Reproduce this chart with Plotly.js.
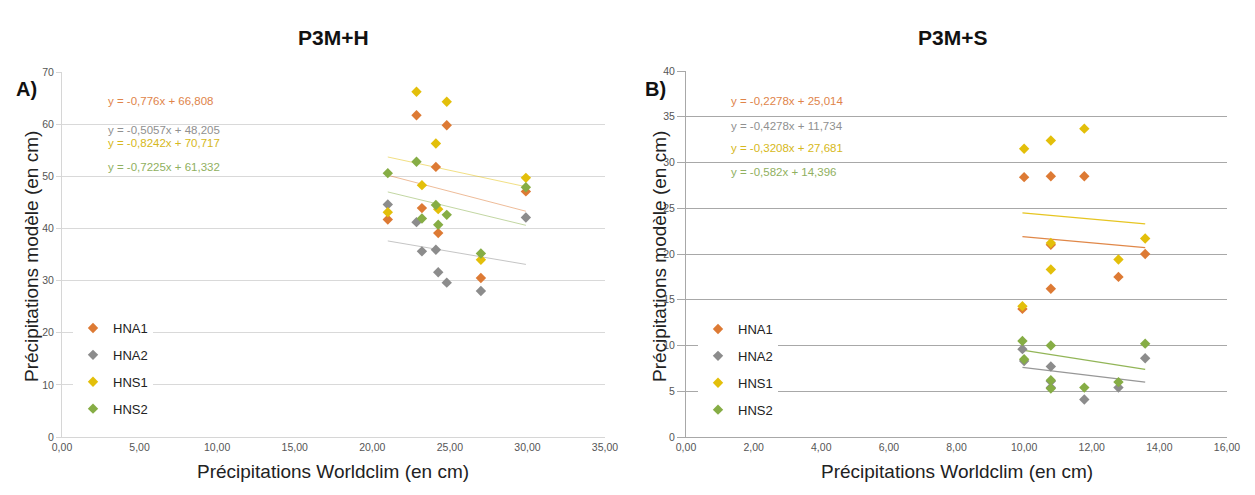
<!DOCTYPE html>
<html>
<head>
<meta charset="utf-8">
<script src="https://cdn.plot.ly/plotly-3.0.1.min.js"></script>
<style>html,body{margin:0;padding:0;background:#fff;}#chart{width:1255px;height:495px;}</style>
</head>
<body>
<div id="chart"></div>
<script>
// ---------- Panel A : P3M+H ----------
const seriesNames = ['HNA1', 'HNA2', 'HNS1', 'HNS2'];
const seriesColors = ['#dd7a34', '#8c8c8c', '#e3bf0a', '#86ad45'];

const xA = [21.0, 22.85, 23.2, 24.1, 24.25, 24.8, 27.0, 29.9];
const hna1A = [41.7, 61.7, 43.9, 51.8, 39.1, 59.8, 30.5, 47.1];
const hna2A = [44.6, 41.2, 35.6, 35.9, 31.6, 29.6, 28.0, 42.1];
const hns1A = [43.1, 66.2, 48.3, 56.3, 43.7, 64.3, 34.0, 49.7];
const hns2A = [50.6, 52.8, 41.9, 44.5, 40.7, 42.6, 35.2, 47.9];

// trend line end points
const trendXA = [21.0, 29.9];
const trendA = {
  HNA1: [50.2, 43.3],
  HNA2: [37.6, 33.1],
  HNS1: [53.7, 48.0],
  HNS2: [47.0, 40.6]
};
const eqA = ['y = -0,776x + 66,808', 'y = -0,5057x + 48,205', 'y = -0,8242x + 70,717', 'y = -0,7225x + 61,332'];

// ---------- Panel B : P3M+S ----------
const xB = [9.95, 10.0, 10.79, 10.79, 10.79, 11.78, 12.79, 13.58];
const hna1B = [14.0, 28.4, 28.5, 21.0, 16.2, 28.5, 17.5, 20.0];
const hna2B = [9.6, 8.3, 7.7, 6.1, 5.4, 4.1, 5.4, 8.6];
const hns1B = [14.3, 31.5, 32.4, 21.2, 18.3, 33.7, 19.4, 21.7];
const hns2B = [10.5, 8.5, 10.0, 6.2, 5.3, 5.4, 6.0, 10.2];

const trendXB = [9.95, 13.58];
const trendB = {
  HNA1: [21.9, 20.7],
  HNA2: [7.6, 6.0],
  HNS1: [24.5, 23.3],
  HNS2: [9.5, 7.4]
};
const eqB = ['y = -0,2278x + 25,014', 'y = -0,4278x + 11,734', 'y = -0,3208x + 27,681', 'y = -0,582x + 14,396'];

const ticksA_x = [0, 5, 10, 15, 20, 25, 30, 35];
const ticksB_x = [0, 2, 4, 6, 8, 10, 12, 14, 16];

// ---------- build ----------
const FONT = 'Liberation Sans, Arial, sans-serif';
const W = 1255, H = 495;
const px = v => v / W;
const py = v => 1 - v / H;

const dataA = [hna1A, hna2A, hns1A, hns2A];
const dataB = [hna1B, hna2B, hns1B, hns2B];
const traces = [];

// trend lines first (under markers)
seriesNames.forEach((n, i) => {
  traces.push({x: trendXA, y: trendA[n], mode: 'lines', xaxis: 'x', yaxis: 'y',
    line: {color: seriesColors[i], width: 1}, opacity: 0.5, showlegend: false, hoverinfo: 'skip'});
  traces.push({x: trendXB, y: trendB[n], mode: 'lines', xaxis: 'x2', yaxis: 'y2',
    line: {color: seriesColors[i], width: 1.2}, opacity: 0.9, showlegend: false, hoverinfo: 'skip'});
});

seriesNames.forEach((n, i) => {
  traces.push({x: xA, y: dataA[i], name: n, mode: 'markers', type: 'scatter', xaxis: 'x', yaxis: 'y',
    marker: {symbol: 'diamond', size: 8, color: seriesColors[i]}, legend: 'legend', legendgroup: 'a' + i});
  traces.push({x: xB, y: dataB[i], name: n, mode: 'markers', type: 'scatter', xaxis: 'x2', yaxis: 'y2',
    marker: {symbol: 'diamond', size: 8, color: seriesColors[i]}, legend: 'legend2', legendgroup: 'b' + i});
});

const tickFont = {family: FONT, size: 10.5, color: '#555'};
const annotations = [
  {text: '<b>P3M+H</b>', x: px(333), y: py(37), font: {family: FONT, size: 21, color: '#111'}},
  {text: '<b>P3M+S</b>', x: px(952), y: py(37), font: {family: FONT, size: 21, color: '#111'}},
  {text: '<b>A)</b>', x: px(26), y: py(89), font: {family: FONT, size: 20, color: '#111'}},
  {text: '<b>B)</b>', x: px(655), y: py(89), font: {family: FONT, size: 20, color: '#111'}},
  {text: 'Précipitations modèle (en cm)', x: px(31), y: py(257), textangle: -90, font: {family: FONT, size: 19, color: '#222'}},
  {text: 'Précipitations modèle (en cm)', x: px(659), y: py(257), textangle: -90, font: {family: FONT, size: 19, color: '#222'}},
  {text: 'Précipitations Worldclim (en cm)', x: px(333), y: py(471), font: {family: FONT, size: 19, color: '#222'}},
  {text: 'Précipitations Worldclim (en cm)', x: px(957), y: py(471), font: {family: FONT, size: 19, color: '#222'}}
].map(a => Object.assign({xref: 'paper', yref: 'paper', showarrow: false, xanchor: 'center', yanchor: 'middle'}, a));

const eqYA = [101, 130, 143, 167];
const eqYB = [101, 126, 148, 172];
const eqColors = ['#e0844a', '#909090', '#d6b820', '#90b060'];
eqA.forEach((t, i) => annotations.push({text: t, xref: 'paper', yref: 'paper', x: px(106), y: py(eqYA[i]),
  xanchor: 'left', yanchor: 'middle', showarrow: false, font: {family: FONT, size: 11.5, color: eqColors[i]}}));
eqB.forEach((t, i) => annotations.push({text: t, xref: 'paper', yref: 'paper', x: px(729), y: py(eqYB[i]),
  xanchor: 'left', yanchor: 'middle', showarrow: false, font: {family: FONT, size: 11.5, color: eqColors[i]}}));

const legendBase = {font: {family: FONT, size: 13, color: '#222'}, bgcolor: '#ffffff', borderwidth: 0,
  tracegroupgap: 7, traceorder: 'grouped', yanchor: 'top', xanchor: 'left', itemclick: false};

const layout = {
  width: W, height: H,
  margin: {l: 0, r: 0, t: 0, b: 0},
  paper_bgcolor: '#ffffff', plot_bgcolor: '#ffffff',
  separators: ', ',
  showlegend: true,
  xaxis: {domain: [px(62), px(605)], range: [0, 35], tickvals: ticksA_x, tickformat: '.2f', showgrid: false,
    showline: true, linecolor: '#d6d6d6', linewidth: 1, zeroline: false, tickfont: tickFont, ticks: '', anchor: 'y'},
  yaxis: {domain: [py(437), py(72)], range: [0, 70], dtick: 10, showgrid: true, gridcolor: '#d9d9d9',
    showline: true, linecolor: '#d6d6d6', zeroline: false, tickfont: tickFont, ticks: 'outside', ticklen: 5,
    tickcolor: '#d6d6d6', anchor: 'x'},
  xaxis2: {domain: [px(686), px(1227)], range: [0, 16], tickvals: ticksB_x, tickformat: '.2f', showgrid: false,
    showline: true, linecolor: '#a8a8a8', linewidth: 1, zeroline: false, tickfont: tickFont, ticks: '', anchor: 'y2'},
  yaxis2: {domain: [py(437), py(71)], range: [0, 40], dtick: 5, showgrid: true, gridcolor: '#a8a8a8',
    showline: true, linecolor: '#a8a8a8', zeroline: false, tickfont: tickFont, ticks: 'outside', ticklen: 8,
    tickcolor: '#a8a8a8', anchor: 'x2'},
  legend: Object.assign({x: px(73), y: py(313)}, legendBase),
  legend2: Object.assign({x: px(698), y: py(314)}, legendBase),
  annotations: annotations
};

Plotly.newPlot('chart', traces, layout, {displayModeBar: false, staticPlot: true});
</script>
</body>
</html>
